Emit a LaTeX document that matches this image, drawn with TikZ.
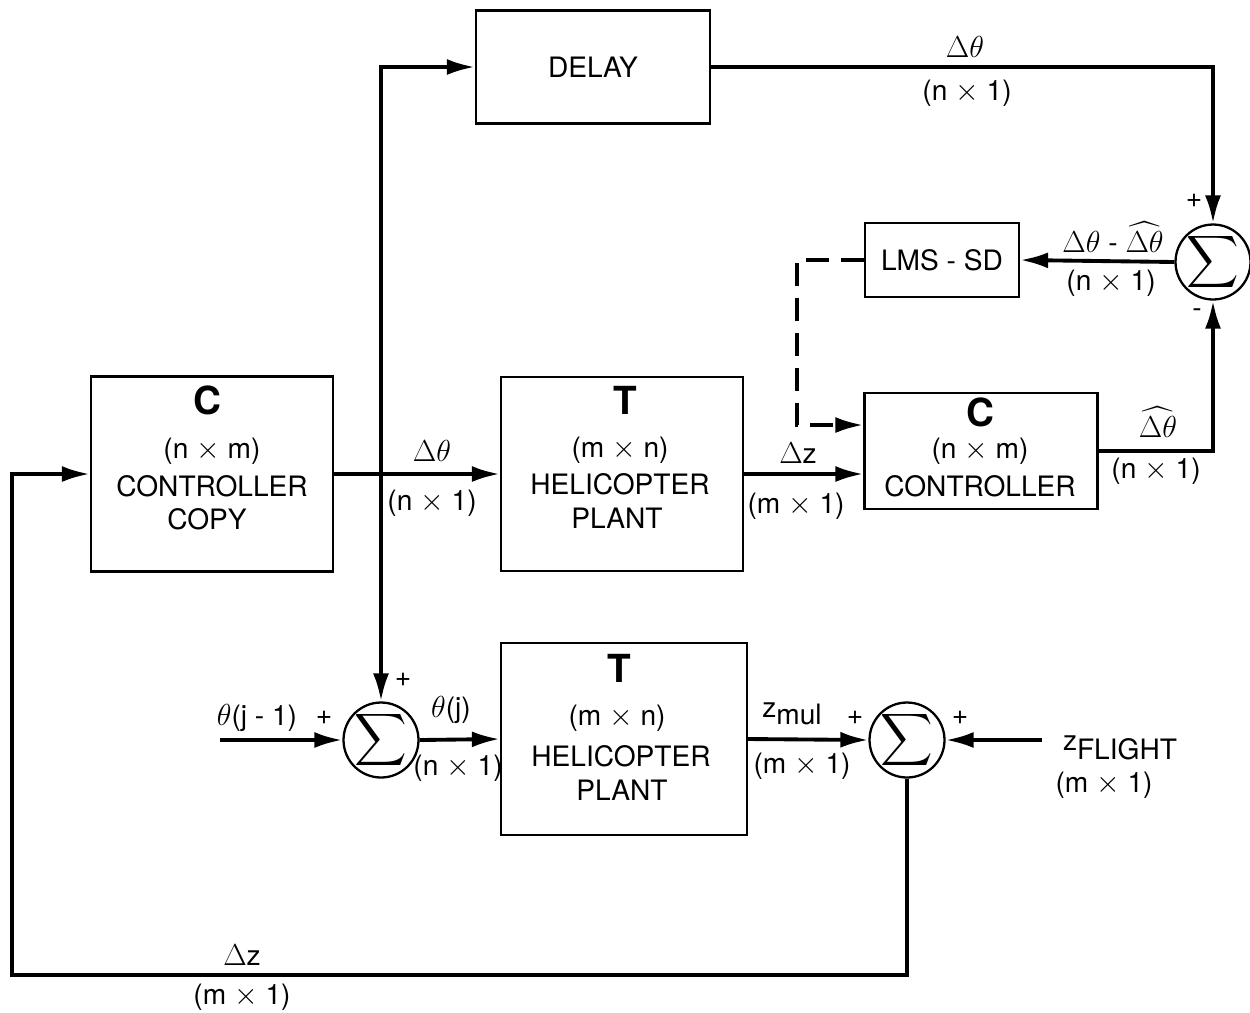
\documentclass[tikz,border=0pt]{standalone}
\usepackage{amsmath}
\usepackage{fontspec}
\setmainfont{TeX Gyre Heros}
\usetikzlibrary{arrows.meta, positioning}

\tikzset{
  bloc/.style={draw, line width=1.3pt, inner sep=0pt},
  somme/.style={draw, circle, line width=1.3pt, minimum size=1.5cm, inner sep=0pt},
  sig/.style={font=\fontsize{22}{22}\selectfont, inner sep=0pt},
  fleche/.style={line width=2.2pt, -{Latex[length=0.56cm, width=0.32cm]}},
  txt/.style={font=\fontsize{16}{18}\selectfont, inner sep=0pt},
  grand/.style={font=\fontsize{22}{24}\selectfont\bfseries, inner sep=0pt},
}

\begin{document}
\begin{tikzpicture}[x=0.02cm, y=-0.02cm]
        \useasboundingbox (0,0) rectangle (1250,1012);
        % Blocs
        \node[bloc, minimum width=4.68cm, minimum height=2.26cm] (delay) at (593,67) {};
        \node[bloc, minimum width=3.08cm, minimum height=1.48cm] (lms) at (942,260) {};
        \node[bloc, minimum width=4.66cm, minimum height=2.32cm] (ctrl) at (981,451) {};
        \node[bloc, minimum width=4.84cm, minimum height=3.9cm] (copie) at (212,474) {};
        \node[bloc, minimum width=4.84cm, minimum height=3.88cm] (planteA) at (622,474) {};
        \node[bloc, minimum width=4.92cm, minimum height=3.84cm] (planteB) at (624,739) {};
        % Sommateurs
        \node[somme] (sommeA) at (1213,262) {};
        \node[somme] (sommeB) at (381,740) {};
        \node[somme] (sommeC) at (907,740) {};
        \foreach \s in {sommeA, sommeB, sommeC}
          \node[sig] at (\s) {$\displaystyle\sum$};
        % Points libres
        \coordinate (j1) at (381,474);
        \coordinate (coin) at (797,425);
        \coordinate (entree) at (220,740);
        \coordinate (zf) at (1042,740);
        \coordinate (gauche) at (12,975);
        % Liaisons
        \draw[fleche] (copie.east) -- (planteA.west);
        \draw[fleche] (j1) |- (delay.west);
        \draw[fleche] (j1) -- (sommeB.north);
        \draw[fleche] (delay.east) -| (sommeA.north);
        \draw[fleche] (sommeA.west) -- (lms.east);
        \draw[fleche, dash pattern=on 0.45cm off 0.25cm] (lms.west) -| (coin) -- (coin -| ctrl.west);
        \draw[fleche] (planteA.east) -- (planteA.east -| ctrl.west);
        \draw[fleche] (ctrl.east) -| (sommeA.south);
        \draw[fleche] (entree) -- (sommeB.west);
        \draw[fleche] (sommeB.east) -- (planteB.west);
        \draw[fleche] (planteB.east) -- (sommeC.west);
        \draw[fleche] (zf) -- (sommeC.east);
        \draw[fleche] (sommeC.south) |- (gauche) |- (copie.west);
        % Textes des blocs
        \node[txt] at (delay) {DELAY};
        \node[txt] at (lms) {LMS - SD};
        \node[grand] at (980,412) {C};
        \node[txt] at (980,451) {(n $\times$ m)};
        \node[txt] at (980,486) {CONTROLLER};
        \node[grand] at (207,400) {C};
        \node[txt] at (212,451) {(n $\times$ m)};
        \node[txt] at (212,486) {CONTROLLER};
        \node[txt] at (207,519) {COPY};
        \node[grand] at (625,400) {T};
        \node[txt] at (620,450) {(m $\times$ n)};
        \node[txt] at (620,484) {HELICOPTER};
        \node[txt] at (617,518) {PLANT};
        \node[grand] at (619,668) {T};
        \node[txt] at (617,718) {(m $\times$ n)};
        \node[txt] at (621,756) {HELICOPTER};
        \node[txt] at (622,790) {PLANT};
        % Textes des liaisons
        \node[txt] at (965,47) {$\Delta\theta$};
        \node[txt] at (967,93) {(n $\times$ 1)};
        \node[txt] at (1194,201) {+};
        \node[txt] at (1197,313) {-};
        \node[txt] at (1113,237) {$\Delta\theta$ - $\widehat{\Delta\theta}$};
        \node[txt] at (1111,283) {(n $\times$ 1)};
        \node[txt] at (1158,422) {$\widehat{\Delta\theta}$};
        \node[txt] at (1156,471) {(n $\times$ 1)};
        \node[txt] at (798,453) {$\Delta$z};
        \node[txt] at (796,506) {(m $\times$ 1)};
        \node[txt] at (432,451) {$\Delta\theta$};
        \node[txt] at (432,503) {(n $\times$ 1)};
        \node[txt] at (257,718) {$\theta$(j - 1)};
        \node[txt] at (324,718) {+};
        \node[txt] at (403,680) {+};
        \node[txt] at (451,710) {$\theta$(j)};
        \node[txt] at (458,768) {(n $\times$ 1)};
        \node[txt] at (792,714) {z\raisebox{-0.5ex}{mul}};
        \node[txt] at (855,718) {+};
        \node[txt] at (802,766) {(m $\times$ 1)};
        \node[txt] at (960,718) {+};
        \node[txt] at (1120,748) {z\raisebox{-0.6ex}{FLIGHT}};
        \node[txt] at (1104,785) {(m $\times$ 1)};
        \node[txt] at (242,955) {$\Delta$z};
        \node[txt] at (242,997) {(m $\times$ 1)};
\end{tikzpicture}
\end{document}
